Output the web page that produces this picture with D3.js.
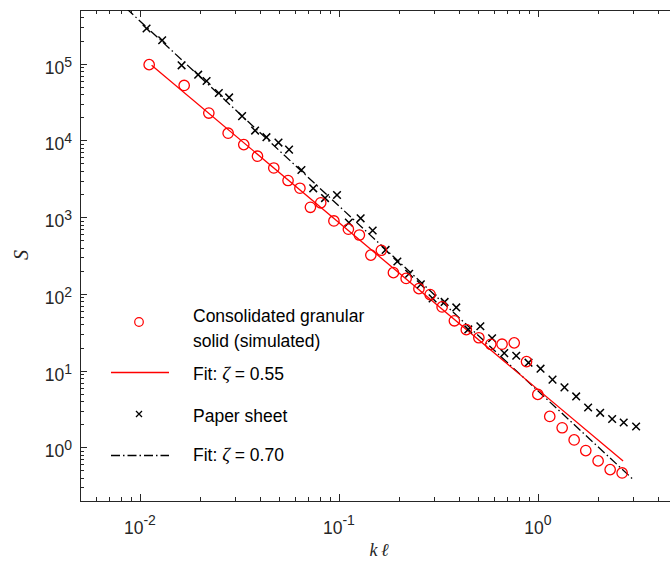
<!DOCTYPE html>
<html>
<head>
<meta charset="utf-8">
<script src="https://cdn.jsdelivr.net/npm/d3@7"></script>
<style>
  html, body { margin: 0; padding: 0; background: #fff; }
  svg { display: block; }
</style>
</head>
<body>
<svg id="chart" width="670" height="561"></svg>
<script>
// ---- Data ----
// Consolidated granular solid (simulated): k*l values and S values
const granularK = [0.01113, 0.01669, 0.02220, 0.02776, 0.03326, 0.03898, 0.04708, 0.05552, 0.06370, 0.07192,
  0.08103, 0.09438, 0.1116, 0.1267, 0.1447, 0.1634, 0.1879, 0.2177, 0.2524, 0.2873,
  0.3301, 0.3804, 0.4366, 0.5050, 0.5797, 0.6604, 0.7603, 0.8766, 0.999, 1.147,
  1.324, 1.521, 1.740, 2.007, 2.307, 2.650];
const granularS = [9.7e4, 5.2e4, 2.27e4, 1.24e4, 8810, 6220, 4370, 3000, 2380, 1343,
  1538, 892, 697, 585, 320, 370, 189, 159, 117, 97.9,
  67.6, 44.6, 34.2, 26.8, 22.0, 22.1, 23.0, 13.1, 4.90, 2.53,
  1.80, 1.25, 0.908, 0.666, 0.513, 0.464];

// Paper sheet
const paperK = [0.01080, 0.01294, 0.01620, 0.01963, 0.02163, 0.02492, 0.02808, 0.03262, 0.03792, 0.04325,
  0.04970, 0.05617, 0.06481, 0.07430, 0.08515, 0.09783, 0.1122, 0.1286, 0.1478, 0.1717,
  0.1967, 0.2254, 0.2580, 0.2957, 0.3398, 0.3889, 0.4468, 0.5138, 0.5885, 0.6773,
  0.7783, 0.8970, 1.031, 1.184, 1.360, 1.557, 1.788, 2.055, 2.361, 2.699, 3.115];
const paperS = [2.87e5, 2.02e5, 9.5e4, 7.18e4, 5.94e4, 4.14e4, 3.63e4, 2.07e4, 1.343e4, 1.101e4,
  9360, 7580, 4117, 2372, 1772, 1940, 848, 965, 670, 374,
  264, 183, 133, 87.4, 78.6, 66.6, 34.4, 37.9, 26.4, 16.9,
  15.6, 12.7, 10.6, 7.63, 6.05, 4.61, 3.31, 2.82, 2.34, 2.11, 1.87];

// Fit lines (end points, straight in log-log)
const fitGranularK = [0.01145, 2.68];
const fitGranularS = [9.5e4, 0.662];
const fitPaperK = [0.00858, 3.01];
const fitPaperS = [5.2e5, 0.382];

// Axis tick labels
const xTickVals = [0.01, 0.1, 1];
const xTickExp = ["-2", "-1", "0"];
const yTickVals = [1, 10, 100, 1000, 1e4, 1e5];
const yTickExp = ["0", "1", "2", "3", "4", "5"];

// Legend
const legendLabels = [["Consolidated granular", "solid (simulated)"], ["Fit: ", "ζ", " = 0.55"], ["Paper sheet"], ["Fit: ", "ζ", " = 0.70"]];

// ---- Drawing ----
(function () {
const svg = d3.select("#chart");
const axisColor = "#262626";
const sans = "'Liberation Sans', Arial, Helvetica, sans-serif";
const serif = "'Liberation Serif', 'DejaVu Serif', 'Times New Roman', serif";

const pL = 80, pR = 677, pT = 10, pB = 501;
const x = d3.scaleLog().domain([0.005, 5]).range([pL, pR]);
const y = d3.scaleLog().domain([0.2, 5e5]).range([pB, pT]);

svg.append("defs").append("clipPath").attr("id", "clip")
  .append("rect").attr("x", pL).attr("y", pT).attr("width", pR - pL).attr("height", pB - pT);

function logTicks(dom) {
  const out = [];
  const lo = Math.floor(Math.log10(dom[0])), hi = Math.ceil(Math.log10(dom[1]));
  for (let e = lo; e <= hi; e++) {
    for (let m = 1; m <= 9; m++) {
      const v = m * Math.pow(10, e);
      if (v >= dom[0] * 0.9999 && v <= dom[1] * 1.0001) out.push({ v, major: m === 1 });
    }
  }
  return out;
}
const majorLen = 7, minorLen = 4;
const gAx = svg.append("g").attr("stroke", axisColor).attr("stroke-width", 1);
logTicks(x.domain()).forEach(t => {
  const px = Math.round(x(t.v)) + 0.5;
  const len = t.major ? majorLen : minorLen;
  gAx.append("line").attr("x1", px).attr("x2", px).attr("y1", pB).attr("y2", pB - len);
  gAx.append("line").attr("x1", px).attr("x2", px).attr("y1", pT).attr("y2", pT + len);
});
logTicks(y.domain()).forEach(t => {
  const py = Math.round(y(t.v)) + 0.5;
  const len = t.major ? majorLen : minorLen;
  gAx.append("line").attr("x1", pL).attr("x2", pL + len).attr("y1", py).attr("y2", py);
});
gAx.append("line").attr("x1", pL).attr("x2", pR).attr("y1", pB + 0.5).attr("y2", pB + 0.5);
gAx.append("line").attr("x1", pL).attr("x2", pR).attr("y1", pT + 0.5).attr("y2", pT + 0.5);
gAx.append("line").attr("x1", pL + 0.5).attr("x2", pL + 0.5).attr("y1", pT).attr("y2", pB + 0.5);

xTickVals.forEach((v, i) => {
  const t = svg.append("text").attr("x", x(v)).attr("y", 534)
    .attr("text-anchor", "middle").attr("fill", axisColor)
    .style("font-family", sans).style("font-size", "17.5px");
  t.append("tspan").text("10");
  t.append("tspan").attr("dy", -9).style("font-size", "14px").text(xTickExp[i]);
});
yTickVals.forEach((v, i) => {
  const t = svg.append("text").attr("x", 72).attr("y", y(v) + 10)
    .attr("text-anchor", "end").attr("fill", axisColor)
    .style("font-family", sans).style("font-size", "17.5px");
  t.append("tspan").text("10");
  t.append("tspan").attr("dy", -7).style("font-size", "14px").text(yTickExp[i]);
});

svg.append("text").attr("transform", "translate(28,255) rotate(-90)")
  .attr("text-anchor", "middle").attr("fill", axisColor)
  .style("font-family", serif).style("font-style", "italic").style("font-size", "20px").text("S");
svg.append("text").attr("x", 379).attr("y", 556)
  .attr("text-anchor", "middle").attr("fill", axisColor)
  .style("font-family", serif).style("font-style", "italic").style("font-size", "18px").text("k\u2009ℓ");

const plot = svg.append("g").attr("clip-path", "url(#clip)");
const line = d3.line().x(d => x(d[0])).y(d => y(d[1]));

plot.append("path").datum(fitPaperK.map((k, i) => [k, fitPaperS[i]]))
  .attr("d", line).attr("fill", "none").attr("stroke", "#000").attr("stroke-width", 1.3)
  .attr("stroke-dasharray", "9,3,1.5,3");
plot.append("path").datum(fitGranularK.map((k, i) => [k, fitGranularS[i]]))
  .attr("d", line).attr("fill", "none").attr("stroke", "#ff0000").attr("stroke-width", 1.3);

const crossPath = s => `M${-s},${-s}L${s},${s}M${-s},${s}L${s},${-s}`;
plot.selectAll("path.cross").data(paperK.map((k, i) => [k, paperS[i]])).enter()
  .append("path").attr("class", "cross")
  .attr("transform", d => `translate(${x(d[0])},${y(d[1])})`)
  .attr("d", crossPath(3.8)).attr("fill", "none").attr("stroke", "#000").attr("stroke-width", 1.5);
plot.selectAll("circle.gran").data(granularK.map((k, i) => [k, granularS[i]])).enter()
  .append("circle").attr("class", "gran")
  .attr("cx", d => x(d[0])).attr("cy", d => y(d[1])).attr("r", 5.2)
  .attr("fill", "none").attr("stroke", "#ff0000").attr("stroke-width", 1.3);

const lg = svg.append("g");
const lx1 = 111, lx2 = 169, lmx = 139, ltx = 193;
lg.append("circle").attr("cx", lmx).attr("cy", 322).attr("r", 4.3)
  .attr("fill", "none").attr("stroke", "#ff0000").attr("stroke-width", 1.2);
lg.append("line").attr("x1", lx1).attr("x2", lx2).attr("y1", 372.5).attr("y2", 372.5)
  .attr("stroke", "#ff0000").attr("stroke-width", 1.3);
lg.append("path").attr("transform", `translate(${lmx},414)`).attr("d", crossPath(3))
  .attr("stroke", "#000").attr("stroke-width", 1.3).attr("fill", "none");
lg.append("line").attr("x1", lx1).attr("x2", lx2).attr("y1", 455.5).attr("y2", 455.5)
  .attr("stroke", "#000").attr("stroke-width", 1.3).attr("stroke-dasharray", "9,3,1.5,3");

function legendText(parts, yb, isMath) {
  const t = lg.append("text").attr("x", ltx).attr("y", yb).attr("fill", "#000")
    .style("font-family", sans).style("font-size", "17.5px");
  parts.forEach((p, i) => {
    const s = t.append("tspan").text(p);
    if (isMath && i === 1) s.style("font-family", serif).style("font-style", "italic").style("font-size", "19px");
  });
}
legendText([legendLabels[0][0]], 322, false);
legendText([legendLabels[0][1]], 347, false);
legendText(legendLabels[1], 380, true);
legendText(legendLabels[2], 422, false);
legendText(legendLabels[3], 461, true);
})();
</script>
</body>
</html>
